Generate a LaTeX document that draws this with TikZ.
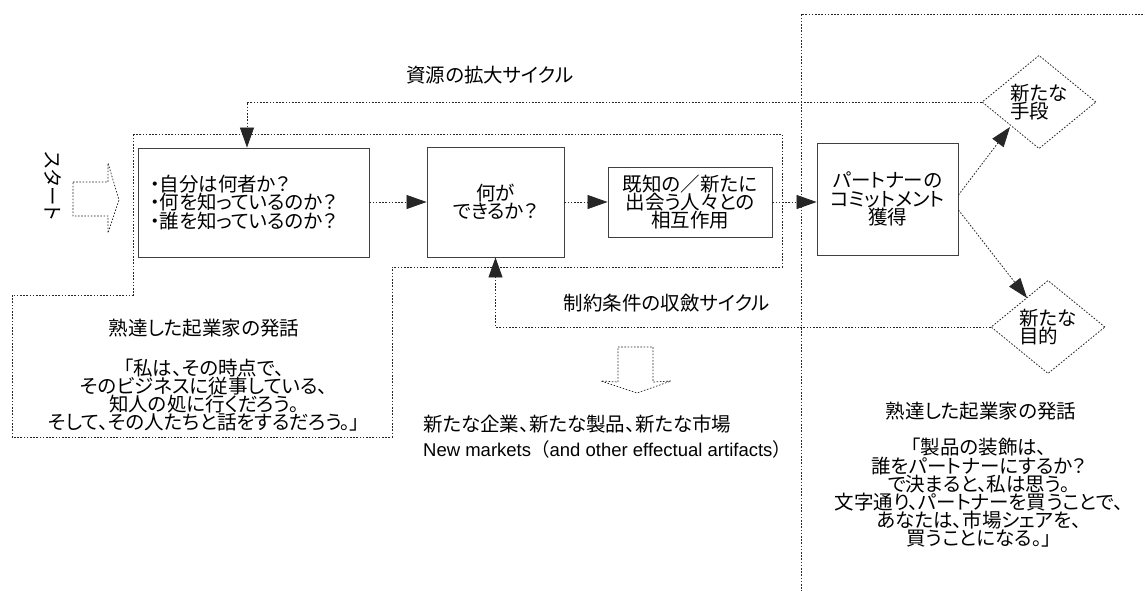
\documentclass[tikz,border=0pt]{standalone}
\usepackage{fontspec}
\setmainfont{Noto Sans CJK JP}[RawFeature=+palt]
\newfontfamily\jpfull{Noto Sans CJK JP}
\newfontfamily\latinfont{Liberation Sans}
\usetikzlibrary{arrows.meta,shapes.geometric,calc}
\begin{document}
\begin{tikzpicture}[x=1pt,y=-1pt,
  every node/.style={font=\fontsize{19.5}{18.2}\selectfont, inner sep=0pt, text=black},
  dotline/.style={draw=black!85, dash pattern=on 1.6pt off 1.6pt, line width=0.8pt},
  box/.style={draw=black!75, line width=0.9pt, align=center},
  arr/.style={dotline, -{Triangle[length=20pt,width=14pt]}},
  dia/.style={dotline, shape=diamond, minimum width=114pt, minimum height=92pt, inner sep=0pt, align=left},
  lbl/.style={align=center},
]
\path[use as bounding box, fill=white] (0,0) rectangle (1145,590);

% start
\node[rotate=-90] (start) at (53,186) {スタート};
\draw[dotline, line width=0.7pt] (73,182) -- (108,182) -- (108,163) -- (119,200) -- (108,233) -- (108,216) -- (73,216) -- cycle;

% regions
\draw[dotline] (133,134) -- (782,134) -- (782,267) -- (392,267) -- (392,437) -- (12,437) -- (12,295) -- (133,295) -- cycle;
\draw[dotline] (801,592) -- (801,14) -- (1147,14);

% boxes
\node[box, minimum width=231pt, minimum height=109pt, text width=207pt, align=left, inner xsep=12pt] (b1) at (253.5,202.5)
  {・自分は何者か？\\・何を知っているのか？\\・誰を知っているのか？};
\node[box, minimum width=137pt, minimum height=110pt] (b2) at (495.5,202) {何が\\できるか？};
\node[box, minimum width=164pt, minimum height=70pt] (b3) at (690,202) {既知の／新たに\\出会う人々との\\相互作用};
\node[box, minimum width=141pt, minimum height=112pt] (b4) at (887.5,199) {パートナーの\\コミットメント\\獲得};

% diamonds
\node[dia] (d1) at (1039,102) {新たな\\手段};
\node[dia] (d2) at (1048,327) {新たな\\目的};

% forward arrows
\draw[arr] (b1.east |- 0,202) -- (b2.west |- 0,202);
\draw[arr] (b2.east |- 0,202) -- (b3.west |- 0,202);
\draw[arr] (b3.east |- 0,202) -- (b4.west |- 0,202);
\coordinate (s1) at ($(b4.east)+(0,-4)$);
\coordinate (s2) at ($(b4.east)+(0,11)$);
\coordinate (e1) at (1010,127);
\coordinate (e2) at (1027,298);
\draw[arr] (s1) -- (e1);
\draw[arr] (s2) -- (e2);

% feedback loops
\coordinate (t1) at (247,102);
\draw[arr] (d1.west) -- (t1) -- (t1 |- b1.north);
\draw[arr] (d2.west) -| (b2.south);
\node[lbl] (l1) at (490,75) {資源の拡大サイクル};
\node[lbl] (l2) at (667,303) {制約条件の収斂サイクル};

% output arrow
\draw[dotline, line width=0.7pt] (618,347) -- (653,347) -- (653,382) -- (671,381) -- (637,393) -- (601,381) -- (618,382) -- cycle;
\node[anchor=base west] (o1) at (423,431) {新たな企業、新たな製品、新たな市場};
\node[anchor=base west, font=\latinfont\fontsize{18.5}{18}\selectfont] (o2) at (423,456) {New markets{\jpfull\fontsize{18.5}{18}\selectfont （}and other effectual artifacts{\jpfull\fontsize{18.5}{18}\selectfont ）}};

% quotes
\node[lbl] (q1t) at (204,328) {熟達した起業家の発話};
\node[lbl] (q1) at (204,395) {「私は、その時点で、\\そのビジネスに従事している、\\知人の処に行くだろう。\\そして、その人たちと話をするだろう。」};
\node[lbl] (q2t) at (981,411) {熟達した起業家の発話};
\node[lbl] (q2) at (979,493) {「製品の装飾は、\\誰をパートナーにするか？\\で決まると、私は思う。\\文字通り、パートナーを買うことで、\\あなたは、市場シェアを、\\買うことになる。」};
\end{tikzpicture}
\end{document}
